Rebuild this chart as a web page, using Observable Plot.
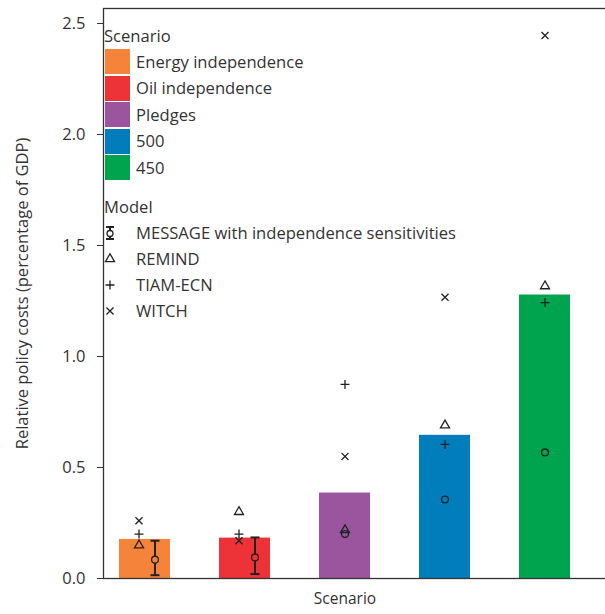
<!DOCTYPE html>
<html>
<head>
<meta charset="utf-8">
<script src="https://cdn.jsdelivr.net/npm/d3@7"></script>
<script src="https://cdn.jsdelivr.net/npm/@observablehq/plot@0.6"></script>
<style>
  html, body { margin: 0; padding: 0; background: #fff; overflow: hidden; }
  #wrap { position: relative; width: 605px; height: 614px; overflow: hidden; font-family: 'Open Sans', sans-serif; color: #333; }
  #wrap > svg.plot, #wrap > svg:first-child { max-width: none !important; }
  .lt { position: absolute; white-space: nowrap; line-height: 1; transform: translateY(-50%); font-size: 16.6px; }
  .sw { position: absolute; width: 25px; height: 25px; }
  .sym { position: absolute; width: 20px; height: 20px; overflow: visible; }
</style>
</head>
<body>
<div id="wrap"></div>
<script>
// ---- data ----
const scenarios = ["Energy independence", "Oil independence", "Pledges", "500", "450"];
const scenarioColors = ["#f5843a", "#ee3338", "#9b559f", "#007dba", "#00a44f"];
const barValues = [0.176, 0.182, 0.385, 0.645, 1.277];
const messageValues = [0.085, 0.095, 0.20, 0.356, 0.568];
const messageLow = [0.015, 0.02, null, null, null];
const messageHigh = [0.17, 0.185, null, null, null];
const remindValues = [0.15, 0.30, 0.218, 0.69, 1.317];
const tiamValues = [0.20, 0.20, 0.874, 0.604, 1.243];
const witchValues = [0.26, 0.17, 0.55, 1.267, 2.446];
const models = ["MESSAGE with independence sensitivities", "REMIND", "TIAM-ECN", "WITCH"];
const yTicks = [0, 0.5, 1.0, 1.5, 2.0, 2.5];

// ---- tables ----
const bars = scenarios.map((s, i) => ({scenario: s, value: barValues[i], i}));
const rows = (vals) => scenarios.map((s, i) => ({scenario: s, value: vals[i], i}));
const msg = rows(messageValues);
const err = scenarios.map((s, i) => ({scenario: s, low: messageLow[i], high: messageHigh[i], i})).filter(d => d.low != null);
const remind = rows(remindValues), tiam = rows(tiamValues), witch = rows(witchValues);

const ink = "#222";
const cap = {draw(ctx) { ctx.moveTo(-4.5, 0); ctx.lineTo(4.5, 0); }};
const sw = 1.3;

function modelMarks(data, symbol, r) {
  return [
    Plot.dot(data.filter(d => d.i < 2), {x: "scenario", y: "value", symbol, r, fill: "none", stroke: ink, strokeWidth: sw, dx: -6}),
    Plot.dot(data.filter(d => d.i >= 2), {x: "scenario", y: "value", symbol, r, fill: "none", stroke: ink, strokeWidth: sw})
  ];
}

const chart = Plot.plot({
  width: 612,
  height: 614,
  marginLeft: 103,
  marginRight: 0,
  marginTop: 8,
  marginBottom: 36,
  x: {domain: scenarios, paddingInner: 0.49, paddingOuter: 0.284, align: 0.28, axis: null},
  y: {domain: [0, 2.5676]},
  color: {domain: scenarios, range: scenarioColors},
  style: {fontFamily: "'Open Sans', sans-serif", fontSize: "16px", color: "#333", background: "white", overflow: "visible"},
  marks: [
    Plot.barY(bars, {x: "scenario", y: "value", fill: "scenario"}),
    Plot.frame({stroke: "#333", strokeWidth: 1.3}),
    Plot.axisY({ticks: yTicks, tickFormat: d3.format(".1f"), tickSize: 6, tickPadding: 12, fontSize: 16.5, stroke: "#333",
      label: "Relative policy costs (percentage of GDP)", labelAnchor: "center", labelArrow: "none", labelOffset: 87}),
    Plot.text(["Pledges"], {x: d => d, text: () => "Scenario", frameAnchor: "bottom", dy: 25, fontSize: 15.5, fill: "#333"}),
    // MESSAGE error bars (first two scenarios)
    Plot.ruleX(err, {x: "scenario", y1: "low", y2: "high", dx: 10, stroke: ink, strokeWidth: 2}),
    Plot.dot(err, {x: "scenario", y: "low", symbol: cap, r: 3, stroke: ink, strokeWidth: 2, dx: 10}),
    Plot.dot(err, {x: "scenario", y: "high", symbol: cap, r: 3, stroke: ink, strokeWidth: 2, dx: 10}),
    Plot.dot(msg.filter(d => d.i < 2), {x: "scenario", y: "value", r: 3.4, fill: (d) => scenarioColors[d.i], stroke: ink, strokeWidth: sw, dx: 10}),
    Plot.dot(msg.filter(d => d.i >= 2), {x: "scenario", y: "value", r: 3.4, fill: "none", stroke: ink, strokeWidth: sw}),
    ...modelMarks(remind, "triangle2", 4.3),
    ...modelMarks(tiam, "plus", 3.0),
    ...modelMarks(witch, "times", 3.3)
  ]
});
chart.style.maxWidth = "none";
chart.style.height = "614px";

const wrap = document.getElementById("wrap");
wrap.appendChild(chart);

// ---- legend ----
function addText(txt, left, cy) {
  const d = document.createElement("div");
  d.className = "lt"; d.textContent = txt;
  d.style.left = left + "px"; d.style.top = cy + "px";
  wrap.appendChild(d);
}
addText("Scenario", 104, 36);
scenarios.forEach((s, i) => {
  const b = document.createElement("div");
  b.className = "sw";
  b.style.left = "105px"; b.style.top = (49 + i * 26.5) + "px";
  b.style.background = scenarioColors[i];
  wrap.appendChild(b);
  addText(s, 136, 61.5 + i * 26.5);
});
addText("Model", 104, 207);
const symPaths = [
  null,
  d3.symbol(d3.symbolTriangle2, Math.PI * 4.3 * 4.3)(),
  d3.symbol(d3.symbolPlus, Math.PI * 3.0 * 3.0)(),
  d3.symbol(d3.symbolTimes, Math.PI * 3.3 * 3.3)()
];
models.forEach((m, i) => {
  const cy = 233.3 + i * 25.8;
  const ns = "http://www.w3.org/2000/svg";
  const svg = document.createElementNS(ns, "svg");
  svg.setAttribute("class", "sym");
  svg.setAttribute("viewBox", "-10 -10 20 20");
  svg.style.left = "100px"; svg.style.top = (cy - 10) + "px";
  if (i === 0) {
    svg.innerHTML = `<g stroke="${ink}" fill="none"><path d="M0,-6V6" stroke-width="2"/><path d="M-4,-6H4M-4,6H4" stroke-width="2"/><circle cx="0" cy="0.5" r="3" fill="#fff" stroke-width="1.3"/></g>`;
  } else {
    svg.innerHTML = `<path d="${symPaths[i]}" fill="none" stroke="${ink}" stroke-width="${sw}"/>`;
  }
  wrap.appendChild(svg);
  addText(m, 136, cy);
});
</script>
</body>
</html>
